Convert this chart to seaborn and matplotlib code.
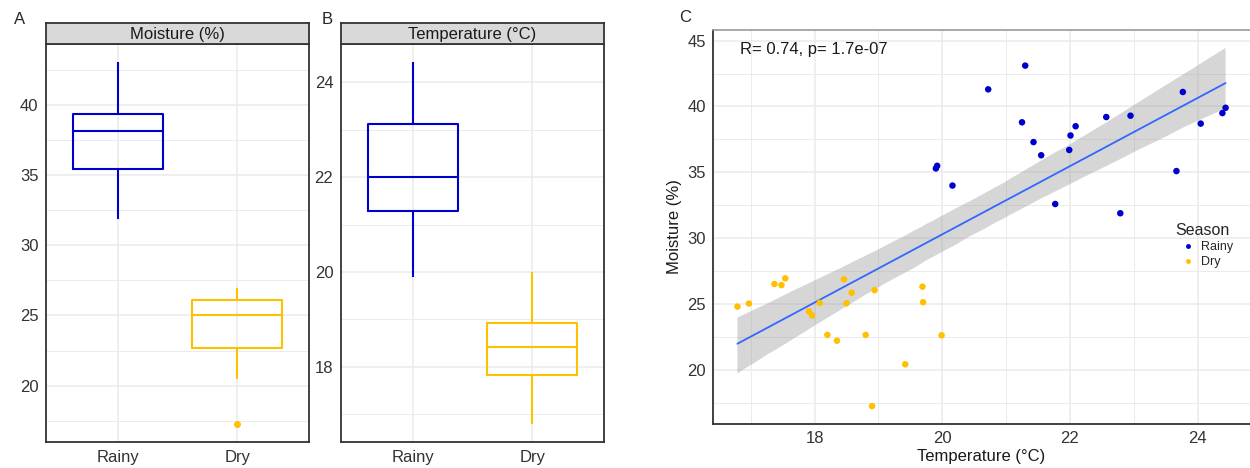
import numpy as np
import pandas as pd
import seaborn as sns
import matplotlib.pyplot as plt
from matplotlib.ticker import MultipleLocator
from matplotlib.collections import PolyCollection

seasons = ['Rainy', 'Dry']
season_colors = ['#0000CD', '#FFC000']

rainy_temp = [21.30, 20.72, 23.77, 24.44, 24.39, 21.25, 22.09, 22.57, 22.95, 24.05,
              22.01, 21.43, 21.99, 21.55, 23.67, 19.92, 19.90, 20.16, 21.77, 22.79]
rainy_moist = [43.1, 41.3, 41.1, 39.9, 39.5, 38.8, 38.5, 39.2, 39.3, 38.7,
               37.8, 37.3, 36.7, 36.3, 35.1, 35.5, 35.3, 34.0, 32.6, 31.9]
dry_temp = [16.79, 16.97, 17.37, 17.48, 17.54, 17.91, 17.96, 18.08, 18.20, 18.35,
            18.46, 18.50, 18.58, 18.80, 18.94, 18.90, 19.42, 19.69, 19.70, 19.99]
dry_moist = [24.82, 25.05, 26.53, 26.45, 26.96, 24.46, 24.15, 25.10, 22.67, 22.23,
             26.89, 25.07, 25.87, 22.67, 26.07, 17.27, 20.44, 26.33, 25.15, 22.64]

stat_label = 'R= 0.74, p= 1.7e-07'

df = pd.DataFrame({
    'Season': ['Rainy'] * len(rainy_temp) + ['Dry'] * len(dry_temp),
    'Temperature': rainy_temp + dry_temp,
    'Moisture': rainy_moist + dry_moist,
})
df['Season'] = pd.Categorical(df['Season'], categories=seasons, ordered=True)
palette = dict(zip(seasons, season_colors))

sns.set_style('white')
plt.rcParams['font.family'] = ['Liberation Sans', 'DejaVu Sans']

W, H = 1250, 468
fig = plt.figure(figsize=(W / 100, H / 100), dpi=100)

GRID = '#ebebeb'
DARK = '#333333'


def px_axes(left, top, right, bottom):
    return fig.add_axes([left / W, 1 - bottom / H, (right - left) / W, (bottom - top) / H])


def expand(vals, frac=0.05):
    lo, hi = min(vals), max(vals)
    pad = (hi - lo) * frac
    return lo - pad, hi + pad


def style_box_panel(ax, major, minor):
    ax.yaxis.set_major_locator(MultipleLocator(major))
    ax.yaxis.set_minor_locator(MultipleLocator(minor))
    ax.grid(True, which='major', color=GRID, lw=1.1)
    ax.grid(True, which='minor', axis='y', color=GRID, lw=0.7)
    ax.set_axisbelow(True)
    for s in ax.spines.values():
        s.set_color(DARK)
        s.set_linewidth(1.3)
    ax.tick_params(axis='both', which='major', direction='out', length=3, width=1,
                   color=DARK, labelcolor=DARK, labelsize=12, pad=2.5)
    ax.tick_params(axis='both', which='minor', length=0)
    ax.set_xlabel('')
    ax.set_ylabel('')
    ax.set_xlim(-0.6, 1.6)


def add_strip(left, right, text):
    sax = px_axes(left, 23, right, 43.5)
    sax.set_facecolor('#d9d9d9')
    sax.set_xticks([])
    sax.set_yticks([])
    for s in sax.spines.values():
        s.set_color(DARK)
        s.set_linewidth(1.3)
    sax.text(0.5, 0.45, text, ha='center', va='center', fontsize=12, color='#1a1a1a',
             transform=sax.transAxes)


def draw_box(ax, col):
    sns.boxplot(data=df, x='Season', y=col, hue='Season', palette=palette, fill=False,
                width=0.75, linewidth=1.5, showcaps=False, legend=False, ax=ax,
                flierprops={'marker': 'o', 'markersize': 4})
    for ln in ax.lines:
        if ln.get_marker() == 'o':
            ln.set_markerfacecolor(ln.get_markeredgecolor())


# Panel A: moisture boxplot
axA = px_axes(46, 43.5, 309, 442)
draw_box(axA, 'Moisture')
axA.set_ylim(*expand(df['Moisture']))
style_box_panel(axA, 5, 2.5)
add_strip(46, 309, 'Moisture (%)')

# Panel B: temperature boxplot
axB = px_axes(341, 43.5, 604, 442)
draw_box(axB, 'Temperature')
axB.set_ylim(*expand(df['Temperature']))
style_box_panel(axB, 2, 1)
add_strip(341, 604, 'Temperature (°C)')

# Panel C: scatter + linear fit
axC = px_axes(713, 30, 1250, 424)
sns.regplot(data=df, x='Temperature', y='Moisture', scatter=False, ci=95, seed=1,
            color='#3366FF', line_kws={'lw': 1.3, 'zorder': 3}, ax=axC)
for coll in axC.collections:
    if isinstance(coll, PolyCollection):
        coll.set_facecolor('#999999')
        coll.set_alpha(0.4)
        coll.set_edgecolor('none')
        coll.set_zorder(2)
sns.scatterplot(data=df, x='Temperature', y='Moisture', hue='Season', palette=palette,
                s=22, edgecolor='none', ax=axC, zorder=4)

band_top = max(df['Moisture'])
for coll in axC.collections:
    if isinstance(coll, PolyCollection):
        band_top = max(band_top, coll.get_paths()[0].vertices[:, 1].max())
axC.set_xlim(*expand(df['Temperature']))
axC.set_ylim(*expand(list(df['Moisture']) + [band_top]))
axC.xaxis.set_major_locator(MultipleLocator(2))
axC.xaxis.set_minor_locator(MultipleLocator(1))
axC.yaxis.set_major_locator(MultipleLocator(5))
axC.yaxis.set_minor_locator(MultipleLocator(2.5))
axC.grid(True, which='major', color=GRID, lw=1.1)
axC.grid(True, which='minor', color=GRID, lw=0.7)
axC.set_axisbelow(True)
axC.spines['right'].set_visible(False)
axC.spines['top'].set_color('#999999')
axC.spines['top'].set_linewidth(1.2)
for s in ('left', 'bottom'):
    axC.spines[s].set_color(DARK)
    axC.spines[s].set_linewidth(1.3)
axC.tick_params(axis='both', which='major', direction='out', length=3, width=1,
                color=DARK, labelcolor=DARK, labelsize=12, pad=2)
axC.tick_params(axis='both', which='minor', length=0)
axC.set_xlabel('Temperature (°C)', fontsize=12, color='#1a1a1a', labelpad=2)
axC.set_ylabel('Moisture (%)', fontsize=12, color='#1a1a1a', labelpad=4)
axC.text(0.05, 0.97, stat_label, transform=axC.transAxes, ha='left', va='top',
         fontsize=12, color='#1a1a1a')

handles, labels = axC.get_legend_handles_labels()
axC.legend(handles, labels, title='Season', frameon=False, fontsize=9,
           title_fontsize=11.5, alignment='left', markerscale=0.75,
           handletextpad=0.1, labelspacing=0.25, borderaxespad=0,
           loc='upper left', bbox_to_anchor=(1170 / W, 1 - 218 / H),
           bbox_transform=fig.transFigure)

# Panel tags
fig.text(14 / W, 1 - 20 / H, 'A', fontsize=12, ha='left', va='center')
fig.text(322 / W, 1 - 20 / H, 'B', fontsize=12, ha='left', va='center')
fig.text(679 / W, 1 - 18 / H, 'C', fontsize=12, ha='left', va='center')

fig.savefig('out.png', dpi=100)
